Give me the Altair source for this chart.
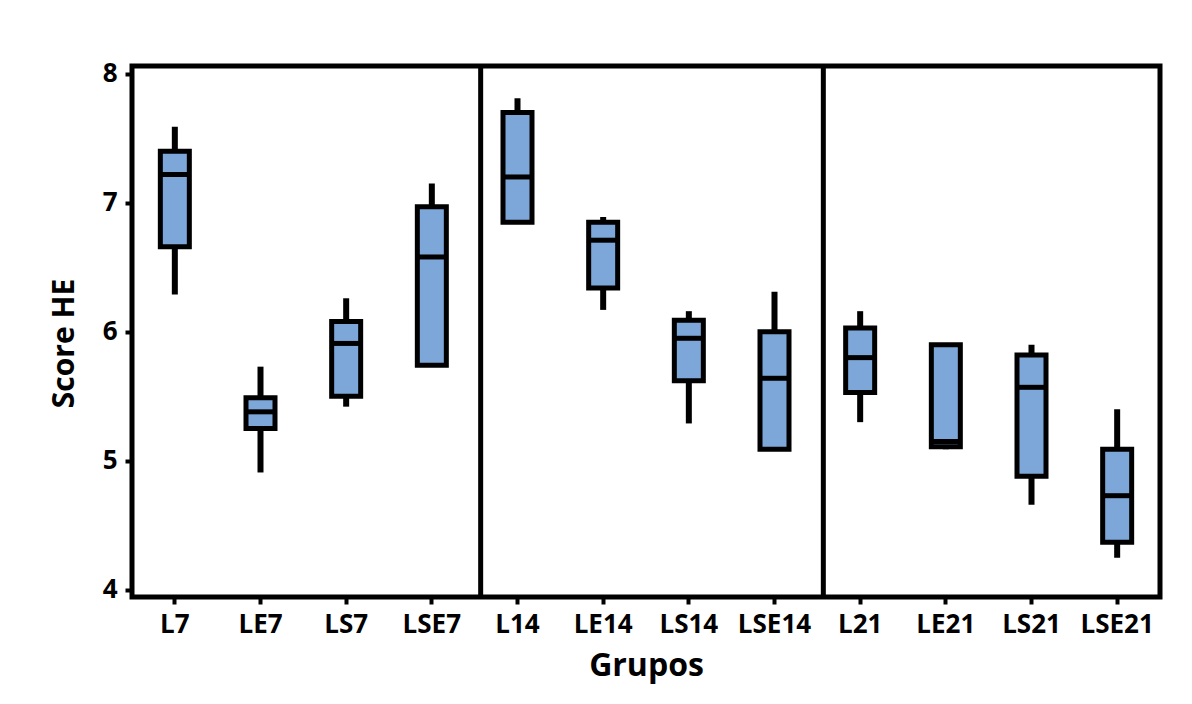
import altair as alt
import pandas as pd

groups = ["L7", "LE7", "LS7", "LSE7", "L14", "LE14", "LS14", "LSE14",
          "L21", "LE21", "LS21", "LSE21"]
whisker_low = [6.29, 4.91, 5.42, 5.74, 6.84, 6.17, 5.29, 5.09, 5.30, 5.09, 4.66, 4.25]
q1 = [6.66, 5.25, 5.50, 5.74, 6.85, 6.34, 5.62, 5.09, 5.53, 5.11, 4.88, 4.37]
median = [7.22, 5.38, 5.91, 6.58, 7.20, 6.71, 5.95, 5.64, 5.80, 5.15, 5.57, 4.73]
q3 = [7.40, 5.49, 6.08, 6.97, 7.70, 6.85, 6.09, 6.00, 6.03, 5.90, 5.82, 5.09]
whisker_high = [7.59, 5.73, 6.26, 7.15, 7.81, 6.89, 6.16, 6.31, 6.16, 5.90, 5.90, 5.40]
separators = ["L14", "L21"]
y_ticks = [4, 5, 6, 7, 8]

df = pd.DataFrame({
    "grupo": groups, "lo": whisker_low, "q1": q1, "med": median,
    "q3": q3, "hi": whisker_high,
})
sep_df = pd.DataFrame({"grupo": separators})

FONT = "Open Sans"

x_enc = alt.X(
    "grupo:N", sort=groups, title="Grupos",
    scale=alt.Scale(paddingInner=0, paddingOuter=0),
    axis=alt.Axis(
        labelAngle=0, labelFont=FONT, labelFontSize=26, labelFontWeight=700,
        labelColor="black", labelBaseline="alphabetic", labelPadding=28,
        tickColor="black", tickWidth=4, tickSize=7, domain=False, grid=False,
        titleFont=FONT, titleFontSize=32, titleFontWeight=700, titleColor="black",
        titleBaseline="alphabetic", titleY=78,
    ),
)
y_scale = alt.Scale(domain=[3.945, 8.06], nice=False, zero=False)
y_axis = alt.Axis(
    values=y_ticks, format="d", labelFont=FONT, labelFontSize=26, labelFontWeight=700,
    labelColor="black", labelPadding=8, tickColor="black", tickWidth=4, tickSize=7,
    domain=False, grid=False,
    titleFont=FONT, titleFontSize=30, titleFontWeight=700, titleColor="black",
    titleAngle=270, titleBaseline="alphabetic", titleAlign="center",
    titleX=-59, titleY=277,
)

base = alt.Chart(df).encode(x=x_enc)

whiskers = base.mark_rule(color="black", strokeWidth=6).encode(
    y=alt.Y("lo:Q", scale=y_scale, axis=y_axis, title="Score HE"),
    y2="hi:Q",
)
boxes = base.mark_bar(size=29, fill="#7da7d9", stroke="black", strokeWidth=5).encode(
    y=alt.Y("q1:Q", scale=y_scale),
    y2="q3:Q",
)
medians = base.mark_tick(size=29, thickness=5, color="black", opacity=1).encode(
    y=alt.Y("med:Q", scale=y_scale),
)
seps = alt.Chart(sep_df).mark_rule(color="black", strokeWidth=5, xOffset=6).encode(
    x=alt.X("grupo:N", sort=groups, bandPosition=0),
)

chart = alt.layer(whiskers, boxes, medians, seps).properties(
    width=1028, height=531,
    autosize=alt.AutoSizeParams(type="none"),
    padding={"left": 124, "top": 58, "right": 20, "bottom": 90},
    background="white",
).configure_view(stroke="black", strokeWidth=5)

chart.save("out.html", embed_options={"renderer": "svg", "actions": False})
